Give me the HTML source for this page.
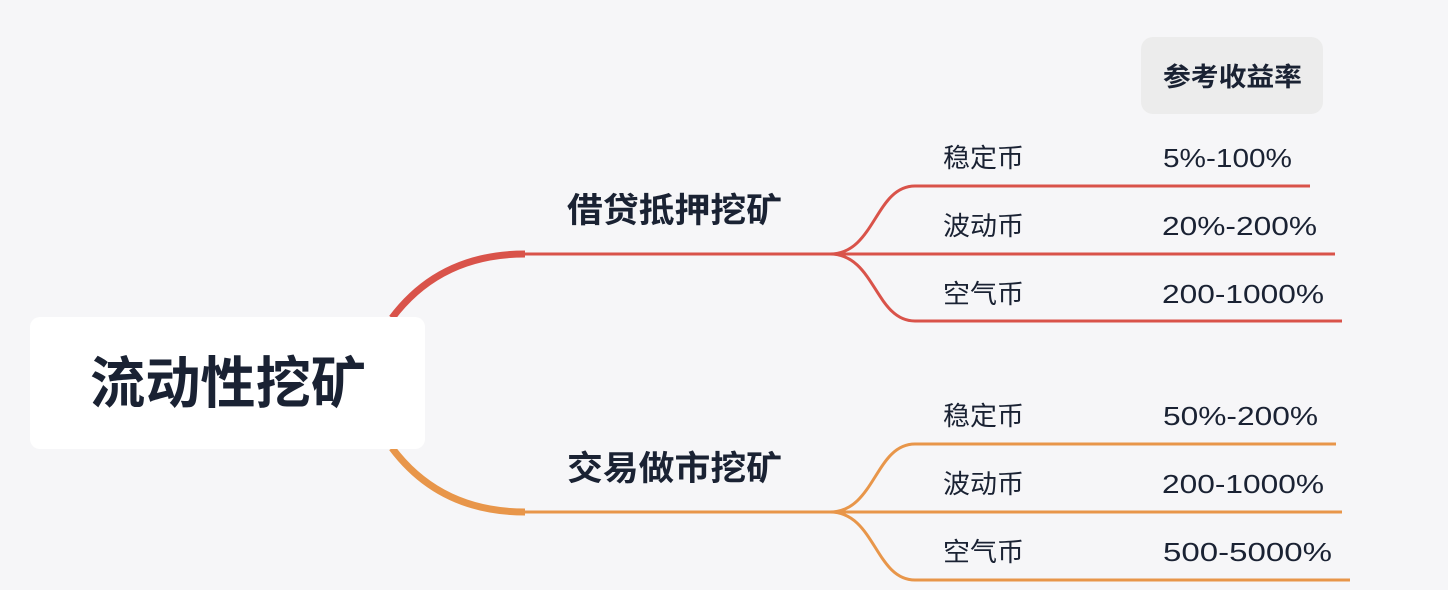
<!DOCTYPE html>
<html><head><meta charset="utf-8"><style>
html,body{margin:0;padding:0;background:#f6f6f8;}
svg{display:block;}
text{font-family:"Liberation Sans","Noto Sans CJK SC",sans-serif;fill:#1a2233;}
</style></head><body>
<svg width="1448" height="590" viewBox="0 0 1448 590" xmlns="http://www.w3.org/2000/svg">
<rect width="1448" height="590" fill="#f6f6f8"/>
<g fill="none" stroke-linecap="butt">
<path d="M392 318 Q440 254 525 254" stroke="#d9534a" stroke-width="7"/>
<path d="M520 254 L830 254" stroke="#d9534a" stroke-width="3"/>
<path d="M830 254 C875 254 875 186 915 186 L1310 186" stroke="#d9534a" stroke-width="3"/>
<path d="M830 254 L1335 254" stroke="#d9534a" stroke-width="3"/>
<path d="M830 254 C875 254 875 321 915 321 L1342 321" stroke="#d9534a" stroke-width="3"/>
<path d="M392 448 Q440 512 525 512" stroke="#e8964a" stroke-width="7"/>
<path d="M520 512 L830 512" stroke="#e8964a" stroke-width="3"/>
<path d="M830 512 C875 512 875 444 915 444 L1336 444" stroke="#e8964a" stroke-width="3"/>
<path d="M830 512 L1342 512" stroke="#e8964a" stroke-width="3"/>
<path d="M830 512 C875 512 875 580 915 580 L1350 580" stroke="#e8964a" stroke-width="3"/>
</g>
<rect x="30" y="317" width="395" height="132" rx="10" fill="#ffffff"/>
<text x="90" y="403" font-size="56" font-weight="bold" textLength="276" lengthAdjust="spacingAndGlyphs" fill="#111">流动性挖矿</text>
<rect x="1141" y="37" width="182" height="77" rx="12" fill="#ececec"/>
<text x="1163" y="86" font-size="26" font-weight="bold" textLength="139" lengthAdjust="spacingAndGlyphs" fill="#333">参考收益率</text>
<text x="567" y="222" font-size="34" font-weight="bold" textLength="215" lengthAdjust="spacingAndGlyphs">借贷抵押挖矿</text>
<text x="567" y="480" font-size="34" font-weight="bold" textLength="215" lengthAdjust="spacingAndGlyphs">交易做市挖矿</text>
<g font-size="26">
<text x="943" y="167" textLength="81" lengthAdjust="spacingAndGlyphs">稳定币</text>
<text x="943" y="235" textLength="81" lengthAdjust="spacingAndGlyphs">波动币</text>
<text x="943" y="303" textLength="81" lengthAdjust="spacingAndGlyphs">空气币</text>
<text x="943" y="425" textLength="81" lengthAdjust="spacingAndGlyphs">稳定币</text>
<text x="943" y="493" textLength="81" lengthAdjust="spacingAndGlyphs">波动币</text>
<text x="943" y="561" textLength="81" lengthAdjust="spacingAndGlyphs">空气币</text>
<text x="1163" y="167" textLength="129" lengthAdjust="spacingAndGlyphs">5%-100%</text>
<text x="1162" y="235" textLength="155" lengthAdjust="spacingAndGlyphs">20%-200%</text>
<text x="1162" y="303" textLength="162" lengthAdjust="spacingAndGlyphs">200-1000%</text>
<text x="1163" y="425" textLength="155" lengthAdjust="spacingAndGlyphs">50%-200%</text>
<text x="1162" y="493" textLength="162" lengthAdjust="spacingAndGlyphs">200-1000%</text>
<text x="1163" y="561" textLength="169" lengthAdjust="spacingAndGlyphs">500-5000%</text>
</g>
</svg>
</body></html>
